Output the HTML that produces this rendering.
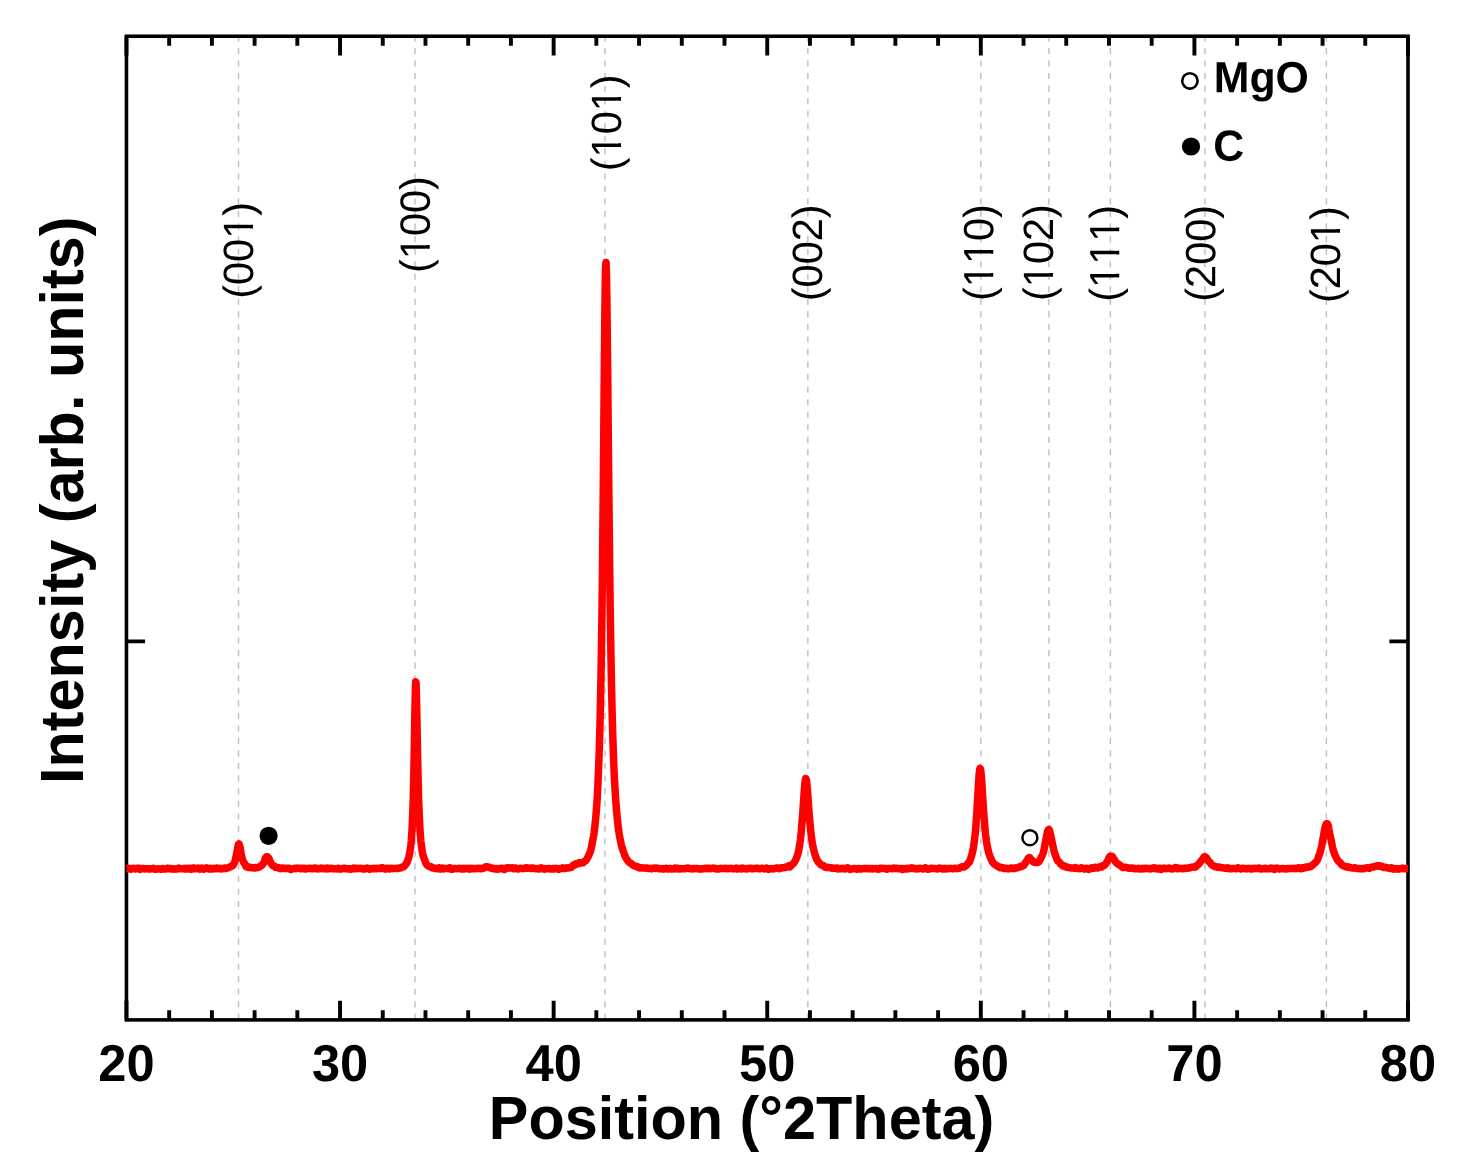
<!DOCTYPE html>
<html lang="en"><head><meta charset="utf-8"><title>XRD pattern</title>
<style>html,body{margin:0;padding:0;background:#fff}body{width:1468px;height:1176px;overflow:hidden}svg{display:block}text{font-family:"Liberation Sans",Arial,Helvetica,sans-serif;fill:#000;font-kerning:none}.b{font-weight:bold}</style>
</head><body>
<svg width="1468" height="1176" viewBox="0 0 1468 1176">
<rect width="1468" height="1176" fill="#fff"/>
<g stroke="#bebebe" stroke-width="1.4" stroke-dasharray="6.1 6.444" fill="none">
<line x1="238.50" y1="35.4" x2="238.50" y2="1019.90"/>
<line x1="415.00" y1="35.4" x2="415.00" y2="1019.90"/>
<line x1="604.95" y1="35.4" x2="604.95" y2="1019.90"/>
<line x1="807.85" y1="35.4" x2="807.85" y2="1019.90"/>
<line x1="980.85" y1="35.4" x2="980.85" y2="1019.90"/>
<line x1="1048.90" y1="35.4" x2="1048.90" y2="1019.90"/>
<line x1="1110.40" y1="35.4" x2="1110.40" y2="1019.90"/>
<line x1="1204.90" y1="35.4" x2="1204.90" y2="1019.90"/>
<line x1="1326.40" y1="35.4" x2="1326.40" y2="1019.90"/>
</g>
<g stroke="#000" fill="none" stroke-linecap="butt">
<rect x="126.45" y="36.25" width="1281.55" height="983.65" stroke-width="3.60"/>
<path d="M126.45 36.25 v19.20 M126.45 1019.90 v-19.20 M169.17 36.25 v9.60 M169.17 1019.90 v-9.60 M211.89 36.25 v9.60 M211.89 1019.90 v-9.60 M254.61 36.25 v9.60 M254.61 1019.90 v-9.60 M297.32 36.25 v9.60 M297.32 1019.90 v-9.60 M340.04 36.25 v19.20 M340.04 1019.90 v-19.20 M382.76 36.25 v9.60 M382.76 1019.90 v-9.60 M425.48 36.25 v9.60 M425.48 1019.90 v-9.60 M468.20 36.25 v9.60 M468.20 1019.90 v-9.60 M510.92 36.25 v9.60 M510.92 1019.90 v-9.60 M553.63 36.25 v19.20 M553.63 1019.90 v-19.20 M596.35 36.25 v9.60 M596.35 1019.90 v-9.60 M639.07 36.25 v9.60 M639.07 1019.90 v-9.60 M681.79 36.25 v9.60 M681.79 1019.90 v-9.60 M724.51 36.25 v9.60 M724.51 1019.90 v-9.60 M767.23 36.25 v19.20 M767.23 1019.90 v-19.20 M809.94 36.25 v9.60 M809.94 1019.90 v-9.60 M852.66 36.25 v9.60 M852.66 1019.90 v-9.60 M895.38 36.25 v9.60 M895.38 1019.90 v-9.60 M938.10 36.25 v9.60 M938.10 1019.90 v-9.60 M980.82 36.25 v19.20 M980.82 1019.90 v-19.20 M1023.54 36.25 v9.60 M1023.54 1019.90 v-9.60 M1066.25 36.25 v9.60 M1066.25 1019.90 v-9.60 M1108.97 36.25 v9.60 M1108.97 1019.90 v-9.60 M1151.69 36.25 v9.60 M1151.69 1019.90 v-9.60 M1194.41 36.25 v19.20 M1194.41 1019.90 v-19.20 M1237.13 36.25 v9.60 M1237.13 1019.90 v-9.60 M1279.85 36.25 v9.60 M1279.85 1019.90 v-9.60 M1322.56 36.25 v9.60 M1322.56 1019.90 v-9.60 M1365.28 36.25 v9.60 M1365.28 1019.90 v-9.60 M1408.00 36.25 v19.20 M1408.00 1019.90 v-19.20 M126.45 641.40 h18.60 M1408.00 641.40 h-18.60" stroke-width="3.90"/>
</g>
<defs><clipPath id="k0" clipPathUnits="userSpaceOnUse"><path clip-rule="evenodd" d="M-20 -60 H140 V30 H-20 Z M61.80 -4.36 H70.38 V2.00 H61.80 Z M74.12 -4.36 H82.27 V2.00 H74.12 Z"/></clipPath><clipPath id="k1" clipPathUnits="userSpaceOnUse"><path clip-rule="evenodd" d="M-20 -60 H140 V30 H-20 Z M15.64 -4.36 H24.22 V2.00 H15.64 Z M27.96 -4.36 H36.11 V2.00 H27.96 Z"/></clipPath><clipPath id="k2" clipPathUnits="userSpaceOnUse"><path clip-rule="evenodd" d="M-20 -60 H140 V30 H-20 Z M15.64 -4.36 H24.22 V2.00 H15.64 Z M27.96 -4.36 H36.11 V2.00 H27.96 Z M61.80 -4.36 H70.38 V2.00 H61.80 Z M74.12 -4.36 H82.27 V2.00 H74.12 Z"/></clipPath><clipPath id="k4" clipPathUnits="userSpaceOnUse"><path clip-rule="evenodd" d="M-20 -60 H140 V30 H-20 Z M15.64 -4.36 H24.22 V2.00 H15.64 Z M27.96 -4.36 H36.11 V2.00 H27.96 Z M38.72 -4.36 H47.30 V2.00 H38.72 Z M51.04 -4.36 H59.19 V2.00 H51.04 Z"/></clipPath><clipPath id="k5" clipPathUnits="userSpaceOnUse"><path clip-rule="evenodd" d="M-20 -60 H140 V30 H-20 Z M15.64 -4.36 H24.22 V2.00 H15.64 Z M27.96 -4.36 H36.11 V2.00 H27.96 Z"/></clipPath><clipPath id="k6" clipPathUnits="userSpaceOnUse"><path clip-rule="evenodd" d="M-20 -60 H140 V30 H-20 Z M15.64 -4.36 H24.22 V2.00 H15.64 Z M27.96 -4.36 H36.11 V2.00 H27.96 Z M38.72 -4.36 H47.30 V2.00 H38.72 Z M51.04 -4.36 H59.19 V2.00 H51.04 Z M61.80 -4.36 H70.38 V2.00 H61.80 Z M74.12 -4.36 H82.27 V2.00 H74.12 Z"/></clipPath><clipPath id="k8" clipPathUnits="userSpaceOnUse"><path clip-rule="evenodd" d="M-20 -60 H140 V30 H-20 Z M61.80 -4.36 H70.38 V2.00 H61.80 Z M74.12 -4.36 H82.27 V2.00 H74.12 Z"/></clipPath></defs>
<g font-size="41.50">
<text clip-path="url(#k0)" transform="translate(253.06 298.80) rotate(-90.03) scale(1 1.020)">(001)</text>
<text clip-path="url(#k1)" transform="translate(429.70 273.00) rotate(-90.03) scale(1 1.020)">(100)</text>
<text clip-path="url(#k2)" transform="translate(621.00 171.20) rotate(-90.03) scale(1 1.020)">(101)</text>
<text transform="translate(822.10 301.20) rotate(-90.03) scale(1 1.020)">(002)</text>
<text clip-path="url(#k4)" transform="translate(993.30 301.00) rotate(-90.03) scale(1 1.020)">(110)</text>
<text clip-path="url(#k5)" transform="translate(1053.10 301.00) rotate(-90.03) scale(1 1.020)">(102)</text>
<text clip-path="url(#k6)" transform="translate(1119.20 301.70) rotate(-90.03) scale(1 1.020)">(111)</text>
<text transform="translate(1215.20 301.70) rotate(-90.03) scale(1 1.020)">(200)</text>
<text clip-path="url(#k8)" transform="translate(1340.10 303.10) rotate(-90.03) scale(1 1.020)">(201)</text>
</g>
<path d="M126.45 868.47 L126.85 868.47 L127.25 868.35 L127.65 868.51 L128.05 868.67 L128.45 868.63 L128.85 868.40 L129.25 868.37 L129.65 868.65 L130.05 868.98 L130.45 869.16 L130.85 869.01 L131.25 868.96 L131.65 868.93 L132.05 868.99 L132.45 868.69 L132.85 868.42 L133.25 868.26 L133.65 868.41 L134.05 868.51 L134.45 868.57 L134.85 868.63 L135.25 868.79 L135.65 868.94 L136.05 868.85 L136.45 868.64 L136.85 868.33 L137.25 868.31 L137.65 868.16 L138.05 868.21 L138.45 868.12 L138.85 868.29 L139.25 868.59 L139.65 868.99 L140.05 869.31 L140.45 869.08 L140.85 868.79 L141.25 868.45 L141.65 868.50 L142.05 868.62 L142.45 868.71 L142.85 868.65 L143.25 868.57 L143.65 868.45 L144.05 868.60 L144.45 868.66 L144.85 868.89 L145.25 868.79 L145.65 868.87 L146.05 868.75 L146.45 868.83 L146.85 868.74 L147.25 868.86 L147.65 868.89 L148.05 869.01 L148.45 868.86 L148.85 868.75 L149.25 868.64 L149.65 868.84 L150.05 868.95 L150.45 869.04 L150.85 868.89 L151.25 868.87 L151.65 868.81 L152.05 868.81 L152.45 868.70 L152.85 868.53 L153.25 868.35 L153.65 868.31 L154.05 868.52 L154.45 868.87 L154.85 869.17 L155.25 869.25 L155.65 869.21 L156.05 869.08 L156.45 869.00 L156.85 869.02 L157.25 869.05 L157.65 868.99 L158.05 868.87 L158.45 868.82 L158.85 868.99 L159.25 869.07 L159.65 869.01 L160.05 868.94 L160.45 869.01 L160.85 869.26 L161.25 869.30 L161.65 869.16 L162.05 868.86 L162.45 868.61 L162.85 868.50 L163.25 868.59 L163.65 868.80 L164.05 868.98 L164.45 869.03 L164.85 868.92 L165.25 868.89 L165.65 868.82 L166.05 868.89 L166.45 868.72 L166.85 868.44 L167.25 868.16 L167.65 868.22 L168.05 868.58 L168.45 868.82 L168.85 868.87 L169.25 868.69 L169.65 868.65 L170.05 868.48 L170.45 868.39 L170.85 868.40 L171.25 868.82 L171.65 869.10 L172.05 869.03 L172.45 868.67 L172.85 868.66 L173.25 868.91 L173.65 869.21 L174.05 869.21 L174.45 869.09 L174.85 869.10 L175.25 869.01 L175.65 868.95 L176.05 868.69 L176.45 868.73 L176.85 868.88 L177.25 869.07 L177.65 868.90 L178.05 868.55 L178.45 868.17 L178.85 868.10 L179.25 868.22 L179.65 868.41 L180.05 868.61 L180.45 868.69 L180.85 868.75 L181.25 868.66 L181.65 868.64 L182.05 868.70 L182.45 868.77 L182.85 868.76 L183.25 868.52 L183.65 868.47 L184.05 868.57 L184.45 868.91 L184.85 868.97 L185.25 868.72 L185.65 868.42 L186.05 868.30 L186.45 868.61 L186.85 868.90 L187.25 869.07 L187.65 868.69 L188.05 868.38 L188.45 868.21 L188.85 868.42 L189.25 868.46 L189.65 868.30 L190.05 868.45 L190.45 868.74 L190.85 869.30 L191.25 869.27 L191.65 868.94 L192.05 868.42 L192.45 868.05 L192.85 868.09 L193.25 868.05 L193.65 868.14 L194.05 868.09 L194.45 868.44 L194.85 868.72 L195.25 868.78 L195.65 868.52 L196.05 868.41 L196.45 868.54 L196.85 868.61 L197.25 868.43 L197.65 868.20 L198.05 868.08 L198.45 868.20 L198.85 868.47 L199.25 868.92 L199.65 869.14 L200.05 869.18 L200.45 868.83 L200.85 868.56 L201.25 868.27 L201.65 868.13 L202.05 868.05 L202.45 868.24 L202.85 868.66 L203.25 869.08 L203.65 869.22 L204.05 869.07 L204.45 868.80 L204.85 868.56 L205.25 868.41 L205.65 868.22 L206.05 867.99 L206.45 867.87 L206.85 867.99 L207.25 868.27 L207.65 868.56 L208.05 868.73 L208.45 868.90 L208.85 868.96 L209.25 868.95 L209.65 868.69 L210.05 868.42 L210.45 868.22 L210.85 868.42 L211.25 868.63 L211.65 868.94 L212.05 868.99 L212.45 868.90 L212.85 868.68 L213.25 868.39 L213.65 868.36 L214.05 868.28 L214.45 868.39 L214.85 868.52 L215.25 868.83 L215.65 868.87 L216.05 868.70 L216.45 868.20 L216.85 867.97 L217.25 867.92 L217.65 868.22 L218.05 868.43 L218.45 868.54 L218.85 868.65 L219.25 868.67 L219.65 868.64 L220.05 868.36 L220.45 868.34 L220.85 868.52 L221.25 868.86 L221.65 868.92 L222.05 868.78 L222.45 868.61 L222.85 868.52 L223.25 868.47 L223.65 868.28 L224.05 868.10 L224.45 868.08 L224.85 868.28 L225.25 868.55 L225.65 868.56 L226.05 868.40 L226.45 868.21 L226.85 868.11 L227.25 868.05 L227.65 867.95 L228.05 867.86 L228.45 867.69 L228.85 867.42 L229.25 867.13 L229.65 867.00 L230.05 866.85 L230.45 866.75 L230.85 866.40 L231.25 866.24 L231.65 866.01 L232.05 865.95 L232.45 865.78 L232.85 865.49 L233.25 864.89 L233.65 864.14 L234.05 863.36 L234.45 862.58 L234.85 861.57 L235.25 860.15 L235.65 858.42 L236.05 856.47 L236.45 854.54 L236.85 852.49 L237.25 850.35 L237.65 848.07 L238.05 845.93 L238.45 844.49 L238.85 844.00 L239.25 844.55 L239.65 845.68 L240.05 847.31 L240.45 849.43 L240.85 851.94 L241.25 854.42 L241.65 856.53 L242.05 858.09 L242.45 859.49 L242.85 860.56 L243.25 861.57 L243.65 862.26 L244.05 862.90 L244.45 863.36 L244.85 863.98 L245.25 864.76 L245.65 865.81 L246.05 866.60 L246.45 866.85 L246.85 866.58 L247.25 866.29 L247.65 866.49 L248.05 866.94 L248.45 867.43 L248.85 867.57 L249.25 867.62 L249.65 867.58 L250.05 867.50 L250.45 867.36 L250.85 867.38 L251.25 867.53 L251.65 867.73 L252.05 867.81 L252.45 867.79 L252.85 867.73 L253.25 867.74 L253.65 867.85 L254.05 868.10 L254.45 868.02 L254.85 867.84 L255.25 867.59 L255.65 867.56 L256.05 867.64 L256.45 867.61 L256.85 867.66 L257.25 867.53 L257.65 867.51 L258.05 867.42 L258.45 867.38 L258.85 867.37 L259.25 867.14 L259.65 866.88 L260.05 866.44 L260.45 866.09 L260.85 865.77 L261.25 865.49 L261.65 865.34 L262.05 865.00 L262.45 864.55 L262.85 863.93 L263.25 863.53 L263.65 863.03 L264.05 862.23 L264.45 861.05 L264.85 859.80 L265.25 858.74 L265.65 857.83 L266.05 857.18 L266.45 856.80 L266.85 856.69 L267.25 856.73 L267.65 856.91 L268.05 857.27 L268.45 857.95 L268.85 858.66 L269.25 859.53 L269.65 860.29 L270.05 861.09 L270.45 861.96 L270.85 862.84 L271.25 863.66 L271.65 864.17 L272.05 864.69 L272.45 865.21 L272.85 865.73 L273.25 865.92 L273.65 865.91 L274.05 865.82 L274.45 866.07 L274.85 866.55 L275.25 867.07 L275.65 867.36 L276.05 867.40 L276.45 867.35 L276.85 867.37 L277.25 867.51 L277.65 867.67 L278.05 867.72 L278.45 867.61 L278.85 867.61 L279.25 867.81 L279.65 868.24 L280.05 868.55 L280.45 868.68 L280.85 868.61 L281.25 868.54 L281.65 868.36 L282.05 868.24 L282.45 868.03 L282.85 868.07 L283.25 868.10 L283.65 868.26 L284.05 868.28 L284.45 868.46 L284.85 868.54 L285.25 868.55 L285.65 868.39 L286.05 868.25 L286.45 868.31 L286.85 868.30 L287.25 868.38 L287.65 868.21 L288.05 868.22 L288.45 868.13 L288.85 868.26 L289.25 868.40 L289.65 868.65 L290.05 869.14 L290.45 869.41 L290.85 869.54 L291.25 869.12 L291.65 868.90 L292.05 868.77 L292.45 868.91 L292.85 868.88 L293.25 868.77 L293.65 868.62 L294.05 868.47 L294.45 868.35 L294.85 868.31 L295.25 868.42 L295.65 868.65 L296.05 868.70 L296.45 868.49 L296.85 868.21 L297.25 868.11 L297.65 868.22 L298.05 868.26 L298.45 868.15 L298.85 868.13 L299.25 868.16 L299.65 868.42 L300.05 868.58 L300.45 868.73 L300.85 868.64 L301.25 868.50 L301.65 868.31 L302.05 868.28 L302.45 868.35 L302.85 868.53 L303.25 868.78 L303.65 868.79 L304.05 868.71 L304.45 868.38 L304.85 868.57 L305.25 868.81 L305.65 869.08 L306.05 868.89 L306.45 868.56 L306.85 868.52 L307.25 868.50 L307.65 868.61 L308.05 868.46 L308.45 868.48 L308.85 868.43 L309.25 868.35 L309.65 868.24 L310.05 868.27 L310.45 868.53 L310.85 868.66 L311.25 868.63 L311.65 868.52 L312.05 868.56 L312.45 868.65 L312.85 868.75 L313.25 868.73 L313.65 868.68 L314.05 868.35 L314.45 868.12 L314.85 867.91 L315.25 867.99 L315.65 868.04 L316.05 868.28 L316.45 868.51 L316.85 868.77 L317.25 868.89 L317.65 868.97 L318.05 868.90 L318.45 868.67 L318.85 868.38 L319.25 868.42 L319.65 868.48 L320.05 868.63 L320.45 868.31 L320.85 868.21 L321.25 868.05 L321.65 868.21 L322.05 868.26 L322.45 868.36 L322.85 868.42 L323.25 868.61 L323.65 868.82 L324.05 868.83 L324.45 868.61 L324.85 868.36 L325.25 868.46 L325.65 868.74 L326.05 868.94 L326.45 868.70 L326.85 868.37 L327.25 868.10 L327.65 868.08 L328.05 868.27 L328.45 868.55 L328.85 868.77 L329.25 868.60 L329.65 868.39 L330.05 868.22 L330.45 868.30 L330.85 868.27 L331.25 868.21 L331.65 868.27 L332.05 868.54 L332.45 868.83 L332.85 868.87 L333.25 868.78 L333.65 868.65 L334.05 868.78 L334.45 868.84 L334.85 868.89 L335.25 868.70 L335.65 868.67 L336.05 868.79 L336.45 868.89 L336.85 868.95 L337.25 868.76 L337.65 868.58 L338.05 868.28 L338.45 868.29 L338.85 868.53 L339.25 868.96 L339.65 869.12 L340.05 869.14 L340.45 869.07 L340.85 869.01 L341.25 868.90 L341.65 868.76 L342.05 868.70 L342.45 868.61 L342.85 868.45 L343.25 868.28 L343.65 868.31 L344.05 868.40 L344.45 868.46 L344.85 868.33 L345.25 868.39 L345.65 868.55 L346.05 868.81 L346.45 868.80 L346.85 868.76 L347.25 868.73 L347.65 868.90 L348.05 868.91 L348.45 868.90 L348.85 868.70 L349.25 868.73 L349.65 868.79 L350.05 868.95 L350.45 869.16 L350.85 869.21 L351.25 869.21 L351.65 868.95 L352.05 868.77 L352.45 868.72 L352.85 868.57 L353.25 868.37 L353.65 868.09 L354.05 868.10 L354.45 868.33 L354.85 868.56 L355.25 868.75 L355.65 868.65 L356.05 868.52 L356.45 868.31 L356.85 868.27 L357.25 868.35 L357.65 868.47 L358.05 868.55 L358.45 868.44 L358.85 868.38 L359.25 868.29 L359.65 868.42 L360.05 868.39 L360.45 868.42 L360.85 868.33 L361.25 868.33 L361.65 868.51 L362.05 868.68 L362.45 868.95 L362.85 868.79 L363.25 868.76 L363.65 868.75 L364.05 869.03 L364.45 869.00 L364.85 868.74 L365.25 868.43 L365.65 868.38 L366.05 868.41 L366.45 868.30 L366.85 868.11 L367.25 868.05 L367.65 868.15 L368.05 868.33 L368.45 868.61 L368.85 869.02 L369.25 869.31 L369.65 869.23 L370.05 868.88 L370.45 868.65 L370.85 868.65 L371.25 868.73 L371.65 868.73 L372.05 868.59 L372.45 868.50 L372.85 868.53 L373.25 868.74 L373.65 868.84 L374.05 868.72 L374.45 868.40 L374.85 868.32 L375.25 868.41 L375.65 868.72 L376.05 868.82 L376.45 868.73 L376.85 868.49 L377.25 868.34 L377.65 868.49 L378.05 868.56 L378.45 868.59 L378.85 868.38 L379.25 868.33 L379.65 868.31 L380.05 868.44 L380.45 868.52 L380.85 868.43 L381.25 868.08 L381.65 867.77 L382.05 867.79 L382.45 868.17 L382.85 868.42 L383.25 868.33 L383.65 868.11 L384.05 868.28 L384.45 868.72 L384.85 869.13 L385.25 869.16 L385.65 868.90 L386.05 868.59 L386.45 868.34 L386.85 868.27 L387.25 868.28 L387.65 868.33 L388.05 868.44 L388.45 868.60 L388.85 868.85 L389.25 869.03 L389.65 868.99 L390.05 868.72 L390.45 868.41 L390.85 868.27 L391.25 868.31 L391.65 868.49 L392.05 868.55 L392.45 868.67 L392.85 868.59 L393.25 868.50 L393.65 868.43 L394.05 868.41 L394.45 868.60 L394.85 868.50 L395.25 868.54 L395.65 868.32 L396.05 868.28 L396.45 868.19 L396.85 868.40 L397.25 868.56 L397.65 868.61 L398.05 868.40 L398.45 868.23 L398.85 868.17 L399.25 868.04 L399.65 867.98 L400.05 867.83 L400.45 867.94 L400.85 867.93 L401.25 867.81 L401.65 867.51 L402.05 867.10 L402.45 866.92 L402.85 866.81 L403.25 866.90 L403.65 866.73 L404.05 866.45 L404.45 865.99 L404.85 865.53 L405.25 864.93 L405.65 864.40 L406.05 863.91 L406.45 863.49 L406.85 862.77 L407.25 861.79 L407.65 860.61 L408.05 859.46 L408.45 858.35 L408.85 857.11 L409.25 855.39 L409.65 853.31 L410.05 850.88 L410.45 848.35 L410.85 845.17 L411.25 841.08 L411.65 835.68 L412.05 828.95 L412.45 820.83 L412.85 810.65 L413.25 797.86 L413.65 781.53 L414.05 761.81 L414.45 738.98 L414.85 715.00 L415.25 693.81 L415.65 681.64 L416.05 682.72 L416.45 694.99 L416.85 714.50 L417.25 736.47 L417.65 757.74 L418.05 776.29 L418.45 791.98 L418.85 804.58 L419.25 815.09 L419.65 823.33 L420.05 830.34 L420.45 835.85 L420.85 840.58 L421.25 844.21 L421.65 847.37 L422.05 850.03 L422.45 852.38 L422.85 854.34 L423.25 856.04 L423.65 857.35 L424.05 858.42 L424.45 859.32 L424.85 860.49 L425.25 861.69 L425.65 862.67 L426.05 863.49 L426.45 864.13 L426.85 864.84 L427.25 865.25 L427.65 865.63 L428.05 865.88 L428.45 866.08 L428.85 866.24 L429.25 866.41 L429.65 866.58 L430.05 866.57 L430.45 866.53 L430.85 866.69 L431.25 867.08 L431.65 867.46 L432.05 867.70 L432.45 867.91 L432.85 868.02 L433.25 868.08 L433.65 867.95 L434.05 867.99 L434.45 868.14 L434.85 868.46 L435.25 868.59 L435.65 868.66 L436.05 868.58 L436.45 868.53 L436.85 868.37 L437.25 868.38 L437.65 868.56 L438.05 868.80 L438.45 868.62 L438.85 868.20 L439.25 867.79 L439.65 867.86 L440.05 868.24 L440.45 868.73 L440.85 869.07 L441.25 868.97 L441.65 868.64 L442.05 868.26 L442.45 868.13 L442.85 868.42 L443.25 868.73 L443.65 869.00 L444.05 868.86 L444.45 868.75 L444.85 868.62 L445.25 868.62 L445.65 868.57 L446.05 868.55 L446.45 868.45 L446.85 868.44 L447.25 868.49 L447.65 868.64 L448.05 868.76 L448.45 868.78 L448.85 868.57 L449.25 868.12 L449.65 867.77 L450.05 867.82 L450.45 868.34 L450.85 868.90 L451.25 869.28 L451.65 869.36 L452.05 869.32 L452.45 868.99 L452.85 868.78 L453.25 868.55 L453.65 868.65 L454.05 868.63 L454.45 868.54 L454.85 868.38 L455.25 868.41 L455.65 868.60 L456.05 868.79 L456.45 868.74 L456.85 868.67 L457.25 868.48 L457.65 868.48 L458.05 868.42 L458.45 868.55 L458.85 868.54 L459.25 868.50 L459.65 868.32 L460.05 868.32 L460.45 868.58 L460.85 868.88 L461.25 869.06 L461.65 868.98 L462.05 868.96 L462.45 868.79 L462.85 868.65 L463.25 868.36 L463.65 868.43 L464.05 868.55 L464.45 868.88 L464.85 868.77 L465.25 868.61 L465.65 868.35 L466.05 868.43 L466.45 868.55 L466.85 868.61 L467.25 868.67 L467.65 868.59 L468.05 868.47 L468.45 868.26 L468.85 868.43 L469.25 868.76 L469.65 869.15 L470.05 869.02 L470.45 868.75 L470.85 868.39 L471.25 868.26 L471.65 868.29 L472.05 868.40 L472.45 868.64 L472.85 868.64 L473.25 868.71 L473.65 868.59 L474.05 868.73 L474.45 868.73 L474.85 868.72 L475.25 868.63 L475.65 868.58 L476.05 868.65 L476.45 868.53 L476.85 868.48 L477.25 868.37 L477.65 868.47 L478.05 868.55 L478.45 868.62 L478.85 868.49 L479.25 868.35 L479.65 868.34 L480.05 868.60 L480.45 868.73 L480.85 868.72 L481.25 868.54 L481.65 868.55 L482.05 868.56 L482.45 868.53 L482.85 868.38 L483.25 868.25 L483.65 868.15 L484.05 867.91 L484.45 867.56 L484.85 867.27 L485.25 867.05 L485.65 866.88 L486.05 866.71 L486.45 866.70 L486.85 866.83 L487.25 866.83 L487.65 866.84 L488.05 866.94 L488.45 867.29 L488.85 867.48 L489.25 867.38 L489.65 867.29 L490.05 867.39 L490.45 867.70 L490.85 867.96 L491.25 868.19 L491.65 868.47 L492.05 868.51 L492.45 868.43 L492.85 868.23 L493.25 868.26 L493.65 868.41 L494.05 868.60 L494.45 868.90 L494.85 869.01 L495.25 868.91 L495.65 868.65 L496.05 868.62 L496.45 868.87 L496.85 869.14 L497.25 869.21 L497.65 869.04 L498.05 868.64 L498.45 868.38 L498.85 868.42 L499.25 868.76 L499.65 868.95 L500.05 868.85 L500.45 868.71 L500.85 868.59 L501.25 868.49 L501.65 868.23 L502.05 868.27 L502.45 868.40 L502.85 868.76 L503.25 868.87 L503.65 869.17 L504.05 869.36 L504.45 869.53 L504.85 869.30 L505.25 868.89 L505.65 868.34 L506.05 868.05 L506.45 868.08 L506.85 868.20 L507.25 868.30 L507.65 867.93 L508.05 867.84 L508.45 867.75 L508.85 867.99 L509.25 868.08 L509.65 868.06 L510.05 868.15 L510.45 868.08 L510.85 868.08 L511.25 867.86 L511.65 867.75 L512.05 867.77 L512.45 867.95 L512.85 868.33 L513.25 868.57 L513.65 868.73 L514.05 868.50 L514.45 868.27 L514.85 868.00 L515.25 867.92 L515.65 867.99 L516.05 868.21 L516.45 868.51 L516.85 868.64 L517.25 868.74 L517.65 868.83 L518.05 868.99 L518.45 868.96 L518.85 868.82 L519.25 868.54 L519.65 868.41 L520.05 868.30 L520.45 868.32 L520.85 868.30 L521.25 868.36 L521.65 868.41 L522.05 868.44 L522.45 868.53 L522.85 868.60 L523.25 868.67 L523.65 868.55 L524.05 868.39 L524.45 868.25 L524.85 868.19 L525.25 868.14 L525.65 867.94 L526.05 867.77 L526.45 867.82 L526.85 868.13 L527.25 868.34 L527.65 868.33 L528.05 868.20 L528.45 868.15 L528.85 868.00 L529.25 868.01 L529.65 867.93 L530.05 868.12 L530.45 868.20 L530.85 868.50 L531.25 868.58 L531.65 868.51 L532.05 868.26 L532.45 868.02 L532.85 868.07 L533.25 868.10 L533.65 868.27 L534.05 868.27 L534.45 868.44 L534.85 868.61 L535.25 868.74 L535.65 868.71 L536.05 868.65 L536.45 868.75 L536.85 868.85 L537.25 868.79 L537.65 868.58 L538.05 868.53 L538.45 868.59 L538.85 868.77 L539.25 868.92 L539.65 868.96 L540.05 868.85 L540.45 868.39 L540.85 868.00 L541.25 867.85 L541.65 868.10 L542.05 868.59 L542.45 868.76 L542.85 868.70 L543.25 868.41 L543.65 868.53 L544.05 868.84 L544.45 869.13 L544.85 869.15 L545.25 868.98 L545.65 868.79 L546.05 868.72 L546.45 868.71 L546.85 868.78 L547.25 868.83 L547.65 868.82 L548.05 868.72 L548.45 868.52 L548.85 868.45 L549.25 868.49 L549.65 868.69 L550.05 868.88 L550.45 869.02 L550.85 868.98 L551.25 869.03 L551.65 869.06 L552.05 869.04 L552.45 868.70 L552.85 868.45 L553.25 868.51 L553.65 868.76 L554.05 869.00 L554.45 868.93 L554.85 868.74 L555.25 868.52 L555.65 868.38 L556.05 868.56 L556.45 868.64 L556.85 868.76 L557.25 868.60 L557.65 868.75 L558.05 868.99 L558.45 869.23 L558.85 869.23 L559.25 868.98 L559.65 868.71 L560.05 868.57 L560.45 868.51 L560.85 868.58 L561.25 868.41 L561.65 868.33 L562.05 868.06 L562.45 867.94 L562.85 867.86 L563.25 868.08 L563.65 868.37 L564.05 868.58 L564.45 868.57 L564.85 868.43 L565.25 868.37 L565.65 868.34 L566.05 868.21 L566.45 867.90 L566.85 867.73 L567.25 867.85 L567.65 868.09 L568.05 868.12 L568.45 867.94 L568.85 867.90 L569.25 867.85 L569.65 867.72 L570.05 867.43 L570.45 867.39 L570.85 867.53 L571.25 867.47 L571.65 867.05 L572.05 866.37 L572.45 865.93 L572.85 865.55 L573.25 865.27 L573.65 864.93 L574.05 864.83 L574.45 864.84 L574.85 864.88 L575.25 864.65 L575.65 864.26 L576.05 863.81 L576.45 863.59 L576.85 863.60 L577.25 863.83 L577.65 863.93 L578.05 863.89 L578.45 863.47 L578.85 863.15 L579.25 862.77 L579.65 862.87 L580.05 862.89 L580.45 863.14 L580.85 862.97 L581.25 862.88 L581.65 862.58 L582.05 862.62 L582.45 862.69 L582.85 862.77 L583.25 862.43 L583.65 861.98 L584.05 861.56 L584.45 861.37 L584.85 861.19 L585.25 860.95 L585.65 860.68 L586.05 860.23 L586.45 859.68 L586.85 858.95 L587.25 858.18 L587.65 857.45 L588.05 856.76 L588.45 856.05 L588.85 855.16 L589.25 854.18 L589.65 853.25 L590.05 852.35 L590.45 851.20 L590.85 849.79 L591.25 848.00 L591.65 846.13 L592.05 844.00 L592.45 841.91 L592.85 839.77 L593.25 837.72 L593.65 835.56 L594.05 833.06 L594.45 830.01 L594.85 826.46 L595.25 822.54 L595.65 818.52 L596.05 814.19 L596.45 809.44 L596.85 803.71 L597.25 797.02 L597.65 789.41 L598.05 781.14 L598.45 772.07 L598.85 761.87 L599.25 750.35 L599.65 737.11 L600.05 721.82 L600.45 704.12 L600.85 683.85 L601.25 660.92 L601.65 634.95 L602.05 605.37 L602.45 571.56 L602.85 533.41 L603.25 491.29 L603.65 446.23 L604.05 399.81 L604.45 354.46 L604.85 313.94 L605.25 282.57 L605.65 264.68 L606.05 262.43 L606.45 274.06 L606.85 297.50 L607.25 330.00 L607.65 368.50 L608.05 409.94 L608.45 452.02 L608.85 492.58 L609.25 530.52 L609.65 565.24 L610.05 596.84 L610.45 625.12 L610.85 650.15 L611.25 672.14 L611.65 691.57 L612.05 708.81 L612.45 724.16 L612.85 737.94 L613.25 750.27 L613.65 761.20 L614.05 770.45 L614.45 778.56 L614.85 785.83 L615.25 792.73 L615.65 798.95 L616.05 804.33 L616.45 809.20 L616.85 813.59 L617.25 817.98 L617.65 821.97 L618.05 825.68 L618.45 828.92 L618.85 831.76 L619.25 834.33 L619.65 836.57 L620.05 838.63 L620.45 840.61 L620.85 842.60 L621.25 844.52 L621.65 846.17 L622.05 847.51 L622.45 848.72 L622.85 849.89 L623.25 851.03 L623.65 852.32 L624.05 853.43 L624.45 854.66 L624.85 855.59 L625.25 856.60 L625.65 857.36 L626.05 858.13 L626.45 858.71 L626.85 859.35 L627.25 859.87 L627.65 860.46 L628.05 861.00 L628.45 861.60 L628.85 862.07 L629.25 862.34 L629.65 862.55 L630.05 862.77 L630.45 863.11 L630.85 863.40 L631.25 863.66 L631.65 863.93 L632.05 864.31 L632.45 864.74 L632.85 864.99 L633.25 865.21 L633.65 865.30 L634.05 865.59 L634.45 865.66 L634.85 865.83 L635.25 866.03 L635.65 866.34 L636.05 866.58 L636.45 866.53 L636.85 866.51 L637.25 866.48 L637.65 866.70 L638.05 866.92 L638.45 867.28 L638.85 867.65 L639.25 867.86 L639.65 867.91 L640.05 867.76 L640.45 867.78 L640.85 867.66 L641.25 867.68 L641.65 867.69 L642.05 867.90 L642.45 868.00 L642.85 868.00 L643.25 867.92 L643.65 867.96 L644.05 868.02 L644.45 868.13 L644.85 868.07 L645.25 868.03 L645.65 867.96 L646.05 867.88 L646.45 867.89 L646.85 867.97 L647.25 868.20 L647.65 868.44 L648.05 868.52 L648.45 868.59 L648.85 868.50 L649.25 868.52 L649.65 868.42 L650.05 868.43 L650.45 868.46 L650.85 868.58 L651.25 868.70 L651.65 868.80 L652.05 868.72 L652.45 868.46 L652.85 868.23 L653.25 868.24 L653.65 868.37 L654.05 868.27 L654.45 868.09 L654.85 868.11 L655.25 868.37 L655.65 868.43 L656.05 868.25 L656.45 868.06 L656.85 868.18 L657.25 868.30 L657.65 868.35 L658.05 868.32 L658.45 868.44 L658.85 868.66 L659.25 868.77 L659.65 868.80 L660.05 868.71 L660.45 868.76 L660.85 868.68 L661.25 868.67 L661.65 868.60 L662.05 868.82 L662.45 868.94 L662.85 869.03 L663.25 868.84 L663.65 868.75 L664.05 868.71 L664.45 868.90 L664.85 868.95 L665.25 868.84 L665.65 868.54 L666.05 868.34 L666.45 868.31 L666.85 868.40 L667.25 868.56 L667.65 868.76 L668.05 868.95 L668.45 869.03 L668.85 868.93 L669.25 868.68 L669.65 868.42 L670.05 868.37 L670.45 868.54 L670.85 868.79 L671.25 868.94 L671.65 868.88 L672.05 868.77 L672.45 868.67 L672.85 868.77 L673.25 868.97 L673.65 868.90 L674.05 868.61 L674.45 868.10 L674.85 868.03 L675.25 868.32 L675.65 868.75 L676.05 868.86 L676.45 868.56 L676.85 868.23 L677.25 868.13 L677.65 868.27 L678.05 868.61 L678.45 868.86 L678.85 869.03 L679.25 868.90 L679.65 868.71 L680.05 868.64 L680.45 868.72 L680.85 868.86 L681.25 868.90 L681.65 868.87 L682.05 868.87 L682.45 868.82 L682.85 868.80 L683.25 868.75 L683.65 868.68 L684.05 868.64 L684.45 868.64 L684.85 868.71 L685.25 868.68 L685.65 868.53 L686.05 868.42 L686.45 868.24 L686.85 868.23 L687.25 868.05 L687.65 868.04 L688.05 868.05 L688.45 868.29 L688.85 868.46 L689.25 868.59 L689.65 868.58 L690.05 868.79 L690.45 868.79 L690.85 868.77 L691.25 868.58 L691.65 868.56 L692.05 868.74 L692.45 868.85 L692.85 868.90 L693.25 868.75 L693.65 868.52 L694.05 868.48 L694.45 868.49 L694.85 868.57 L695.25 868.48 L695.65 868.45 L696.05 868.53 L696.45 868.68 L696.85 868.69 L697.25 868.65 L697.65 868.57 L698.05 868.62 L698.45 868.74 L698.85 868.91 L699.25 869.09 L699.65 869.14 L700.05 869.10 L700.45 868.87 L700.85 868.70 L701.25 868.70 L701.65 868.92 L702.05 869.03 L702.45 868.92 L702.85 868.78 L703.25 868.76 L703.65 868.80 L704.05 868.68 L704.45 868.45 L704.85 868.34 L705.25 868.27 L705.65 868.27 L706.05 868.33 L706.45 868.56 L706.85 868.76 L707.25 868.67 L707.65 868.36 L708.05 868.17 L708.45 868.13 L708.85 868.27 L709.25 868.25 L709.65 868.40 L710.05 868.45 L710.45 868.66 L710.85 868.64 L711.25 868.59 L711.65 868.49 L712.05 868.38 L712.45 868.23 L712.85 868.07 L713.25 868.14 L713.65 868.36 L714.05 868.45 L714.45 868.36 L714.85 868.19 L715.25 868.39 L715.65 868.58 L716.05 868.95 L716.45 868.91 L716.85 869.01 L717.25 868.87 L717.65 868.82 L718.05 868.76 L718.45 868.82 L718.85 868.96 L719.25 868.89 L719.65 868.77 L720.05 868.56 L720.45 868.45 L720.85 868.31 L721.25 868.36 L721.65 868.48 L722.05 868.58 L722.45 868.50 L722.85 868.39 L723.25 868.40 L723.65 868.40 L724.05 868.37 L724.45 868.38 L724.85 868.51 L725.25 868.49 L725.65 868.41 L726.05 868.28 L726.45 868.38 L726.85 868.49 L727.25 868.69 L727.65 868.75 L728.05 868.74 L728.45 868.59 L728.85 868.50 L729.25 868.52 L729.65 868.54 L730.05 868.54 L730.45 868.44 L730.85 868.38 L731.25 868.35 L731.65 868.49 L732.05 868.64 L732.45 868.79 L732.85 868.76 L733.25 868.78 L733.65 868.78 L734.05 868.77 L734.45 868.74 L734.85 868.69 L735.25 868.49 L735.65 868.26 L736.05 868.07 L736.45 868.44 L736.85 868.73 L737.25 868.97 L737.65 868.73 L738.05 868.60 L738.45 868.57 L738.85 868.65 L739.25 868.75 L739.65 868.60 L740.05 868.40 L740.45 868.39 L740.85 868.77 L741.25 869.07 L741.65 868.88 L742.05 868.35 L742.45 868.13 L742.85 868.27 L743.25 868.51 L743.65 868.59 L744.05 868.67 L744.45 868.72 L744.85 868.68 L745.25 868.65 L745.65 868.59 L746.05 868.76 L746.45 868.82 L746.85 868.96 L747.25 868.88 L747.65 868.80 L748.05 868.55 L748.45 868.35 L748.85 868.22 L749.25 868.24 L749.65 868.21 L750.05 868.19 L750.45 868.31 L750.85 868.52 L751.25 868.64 L751.65 868.53 L752.05 868.60 L752.45 868.66 L752.85 868.77 L753.25 868.59 L753.65 868.49 L754.05 868.42 L754.45 868.46 L754.85 868.44 L755.25 868.37 L755.65 868.38 L756.05 868.37 L756.45 868.36 L756.85 868.15 L757.25 868.13 L757.65 868.24 L758.05 868.56 L758.45 868.72 L758.85 868.80 L759.25 868.79 L759.65 868.78 L760.05 868.80 L760.45 868.72 L760.85 868.61 L761.25 868.39 L761.65 868.30 L762.05 868.21 L762.45 868.32 L762.85 868.44 L763.25 868.59 L763.65 868.66 L764.05 868.74 L764.45 868.88 L764.85 868.87 L765.25 868.76 L765.65 868.44 L766.05 868.23 L766.45 868.08 L766.85 868.39 L767.25 868.69 L767.65 869.04 L768.05 869.12 L768.45 869.38 L768.85 869.31 L769.25 869.14 L769.65 868.68 L770.05 868.71 L770.45 868.73 L770.85 868.82 L771.25 868.59 L771.65 868.56 L772.05 868.68 L772.45 868.89 L772.85 868.90 L773.25 868.82 L773.65 868.79 L774.05 868.82 L774.45 868.74 L774.85 868.51 L775.25 868.28 L775.65 868.16 L776.05 868.08 L776.45 867.95 L776.85 867.91 L777.25 867.96 L777.65 868.08 L778.05 868.04 L778.45 868.14 L778.85 868.41 L779.25 868.71 L779.65 868.67 L780.05 868.33 L780.45 867.97 L780.85 867.82 L781.25 867.86 L781.65 867.91 L782.05 867.92 L782.45 867.80 L782.85 867.76 L783.25 867.73 L783.65 867.71 L784.05 867.54 L784.45 867.37 L784.85 867.31 L785.25 867.39 L785.65 867.29 L786.05 867.11 L786.45 866.87 L786.85 866.93 L787.25 866.92 L787.65 866.69 L788.05 866.23 L788.45 865.92 L788.85 866.16 L789.25 866.69 L789.65 866.99 L790.05 866.76 L790.45 866.17 L790.85 865.64 L791.25 865.35 L791.65 865.04 L792.05 864.83 L792.45 864.28 L792.85 863.87 L793.25 863.29 L793.65 863.01 L794.05 862.52 L794.45 861.99 L794.85 861.30 L795.25 860.65 L795.65 859.94 L796.05 859.01 L796.45 858.02 L796.85 856.87 L797.25 855.75 L797.65 854.55 L798.05 853.30 L798.45 851.72 L798.85 849.66 L799.25 847.28 L799.65 844.81 L800.05 842.34 L800.45 839.46 L800.85 835.83 L801.25 831.51 L801.65 826.95 L802.05 822.28 L802.45 817.28 L802.85 811.77 L803.25 805.93 L803.65 799.95 L804.05 794.14 L804.45 788.55 L804.85 783.85 L805.25 780.35 L805.65 778.68 L806.05 778.84 L806.45 780.45 L806.85 783.42 L807.25 787.51 L807.65 792.72 L808.05 798.49 L808.45 804.26 L808.85 809.76 L809.25 814.83 L809.65 819.63 L810.05 824.09 L810.45 828.33 L810.85 832.22 L811.25 835.60 L811.65 838.62 L812.05 841.31 L812.45 843.84 L812.85 845.91 L813.25 847.76 L813.65 849.47 L814.05 851.26 L814.45 852.94 L814.85 854.33 L815.25 855.47 L815.65 856.51 L816.05 857.69 L816.45 858.74 L816.85 859.60 L817.25 860.17 L817.65 860.88 L818.05 861.60 L818.45 862.29 L818.85 862.61 L819.25 862.85 L819.65 863.16 L820.05 863.73 L820.45 864.39 L820.85 864.78 L821.25 865.01 L821.65 864.97 L822.05 865.25 L822.45 865.28 L822.85 865.50 L823.25 865.44 L823.65 865.84 L824.05 866.18 L824.45 866.76 L824.85 866.96 L825.25 867.27 L825.65 867.29 L826.05 867.58 L826.45 867.56 L826.85 867.62 L827.25 867.44 L827.65 867.43 L828.05 867.51 L828.45 867.51 L828.85 867.49 L829.25 867.42 L829.65 867.54 L830.05 867.70 L830.45 867.69 L830.85 867.73 L831.25 867.66 L831.65 868.02 L832.05 868.18 L832.45 868.38 L832.85 868.17 L833.25 868.10 L833.65 868.13 L834.05 868.28 L834.45 868.32 L834.85 868.25 L835.25 868.28 L835.65 868.31 L836.05 868.25 L836.45 867.99 L836.85 868.04 L837.25 868.35 L837.65 868.87 L838.05 869.06 L838.45 868.92 L838.85 868.71 L839.25 868.51 L839.65 868.50 L840.05 868.52 L840.45 868.54 L840.85 868.68 L841.25 868.65 L841.65 868.72 L842.05 868.56 L842.45 868.45 L842.85 868.37 L843.25 868.32 L843.65 868.32 L844.05 868.42 L844.45 868.58 L844.85 868.92 L845.25 868.89 L845.65 868.94 L846.05 868.68 L846.45 868.54 L846.85 868.04 L847.25 867.85 L847.65 867.84 L848.05 868.25 L848.45 868.49 L848.85 868.63 L849.25 868.92 L849.65 869.18 L850.05 869.44 L850.45 869.26 L850.85 869.16 L851.25 868.97 L851.65 868.87 L852.05 868.73 L852.45 868.75 L852.85 868.78 L853.25 868.68 L853.65 868.41 L854.05 868.40 L854.45 868.59 L854.85 868.74 L855.25 868.62 L855.65 868.51 L856.05 868.76 L856.45 869.04 L856.85 869.33 L857.25 869.19 L857.65 869.14 L858.05 868.87 L858.45 868.76 L858.85 868.52 L859.25 868.49 L859.65 868.65 L860.05 868.89 L860.45 869.03 L860.85 868.99 L861.25 869.05 L861.65 869.06 L862.05 869.05 L862.45 868.84 L862.85 868.65 L863.25 868.49 L863.65 868.46 L864.05 868.44 L864.45 868.43 L864.85 868.49 L865.25 868.65 L865.65 868.73 L866.05 868.69 L866.45 868.51 L866.85 868.46 L867.25 868.50 L867.65 868.55 L868.05 868.66 L868.45 868.67 L868.85 868.70 L869.25 868.58 L869.65 868.64 L870.05 868.68 L870.45 868.70 L870.85 868.47 L871.25 868.51 L871.65 868.71 L872.05 869.02 L872.45 868.93 L872.85 868.68 L873.25 868.52 L873.65 868.69 L874.05 868.87 L874.45 868.84 L874.85 868.81 L875.25 868.73 L875.65 868.73 L876.05 868.49 L876.45 868.45 L876.85 868.60 L877.25 868.81 L877.65 869.02 L878.05 869.13 L878.45 869.21 L878.85 869.15 L879.25 868.86 L879.65 868.55 L880.05 868.31 L880.45 868.29 L880.85 868.33 L881.25 868.26 L881.65 868.13 L882.05 868.21 L882.45 868.38 L882.85 868.55 L883.25 868.46 L883.65 868.42 L884.05 868.39 L884.45 868.49 L884.85 868.42 L885.25 868.45 L885.65 868.54 L886.05 868.86 L886.45 869.13 L886.85 869.19 L887.25 869.04 L887.65 868.74 L888.05 868.51 L888.45 868.48 L888.85 868.53 L889.25 868.64 L889.65 868.58 L890.05 868.58 L890.45 868.51 L890.85 868.48 L891.25 868.47 L891.65 868.51 L892.05 868.67 L892.45 868.69 L892.85 868.55 L893.25 868.23 L893.65 867.91 L894.05 867.96 L894.45 868.17 L894.85 868.55 L895.25 868.57 L895.65 868.52 L896.05 868.28 L896.45 868.34 L896.85 868.35 L897.25 868.46 L897.65 868.38 L898.05 868.48 L898.45 868.57 L898.85 868.73 L899.25 868.78 L899.65 868.74 L900.05 868.68 L900.45 868.52 L900.85 868.48 L901.25 868.51 L901.65 868.84 L902.05 869.25 L902.45 869.52 L902.85 869.35 L903.25 868.90 L903.65 868.61 L904.05 868.62 L904.45 868.74 L904.85 868.77 L905.25 868.74 L905.65 868.93 L906.05 869.06 L906.45 868.98 L906.85 868.56 L907.25 868.19 L907.65 868.15 L908.05 868.40 L908.45 868.66 L908.85 868.79 L909.25 868.64 L909.65 868.58 L910.05 868.45 L910.45 868.34 L910.85 868.02 L911.25 867.86 L911.65 867.86 L912.05 868.22 L912.45 868.38 L912.85 868.50 L913.25 868.33 L913.65 868.27 L914.05 868.21 L914.45 868.35 L914.85 868.59 L915.25 868.79 L915.65 868.80 L916.05 868.76 L916.45 868.84 L916.85 868.97 L917.25 868.87 L917.65 868.62 L918.05 868.45 L918.45 868.47 L918.85 868.68 L919.25 868.66 L919.65 868.63 L920.05 868.32 L920.45 868.40 L920.85 868.40 L921.25 868.50 L921.65 868.41 L922.05 868.62 L922.45 868.89 L922.85 869.03 L923.25 868.79 L923.65 868.58 L924.05 868.39 L924.45 868.28 L924.85 867.99 L925.25 867.86 L925.65 867.85 L926.05 868.16 L926.45 868.47 L926.85 868.90 L927.25 869.12 L927.65 869.24 L928.05 869.14 L928.45 869.10 L928.85 869.01 L929.25 869.02 L929.65 868.88 L930.05 868.71 L930.45 868.37 L930.85 868.30 L931.25 868.38 L931.65 868.61 L932.05 868.58 L932.45 868.39 L932.85 868.30 L933.25 868.41 L933.65 868.60 L934.05 868.58 L934.45 868.49 L934.85 868.51 L935.25 868.64 L935.65 868.75 L936.05 868.74 L936.45 868.83 L936.85 868.88 L937.25 868.88 L937.65 868.65 L938.05 868.59 L938.45 868.32 L938.85 868.20 L939.25 867.99 L939.65 868.17 L940.05 868.35 L940.45 868.44 L940.85 868.44 L941.25 868.44 L941.65 868.45 L942.05 868.54 L942.45 868.75 L942.85 869.08 L943.25 869.08 L943.65 868.80 L944.05 868.41 L944.45 868.34 L944.85 868.56 L945.25 868.81 L945.65 868.91 L946.05 868.73 L946.45 868.61 L946.85 868.46 L947.25 868.50 L947.65 868.56 L948.05 868.71 L948.45 868.75 L948.85 868.64 L949.25 868.45 L949.65 868.46 L950.05 868.44 L950.45 868.55 L950.85 868.32 L951.25 868.39 L951.65 868.38 L952.05 868.59 L952.45 868.62 L952.85 868.69 L953.25 868.71 L953.65 868.57 L954.05 868.43 L954.45 868.30 L954.85 868.29 L955.25 868.23 L955.65 868.27 L956.05 868.39 L956.45 868.60 L956.85 868.64 L957.25 868.62 L957.65 868.46 L958.05 868.43 L958.45 868.37 L958.85 868.37 L959.25 868.27 L959.65 868.06 L960.05 867.83 L960.45 867.44 L960.85 867.27 L961.25 867.11 L961.65 867.05 L962.05 866.77 L962.45 866.59 L962.85 866.45 L963.25 866.70 L963.65 866.89 L964.05 867.01 L964.45 866.76 L964.85 866.40 L965.25 866.20 L965.65 865.87 L966.05 865.62 L966.45 865.20 L966.85 864.95 L967.25 864.46 L967.65 863.81 L968.05 863.12 L968.45 862.74 L968.85 862.56 L969.25 862.35 L969.65 861.65 L970.05 860.57 L970.45 859.22 L970.85 857.95 L971.25 856.69 L971.65 855.33 L972.05 853.89 L972.45 852.30 L972.85 850.58 L973.25 848.46 L973.65 846.03 L974.05 843.22 L974.45 840.24 L974.85 836.89 L975.25 833.26 L975.65 828.93 L976.05 824.09 L976.45 818.37 L976.85 812.17 L977.25 805.35 L977.65 798.40 L978.05 791.34 L978.45 784.49 L978.85 778.25 L979.25 773.11 L979.65 769.74 L980.05 768.38 L980.45 769.09 L980.85 771.45 L981.25 775.35 L981.65 780.42 L982.05 786.33 L982.45 792.70 L982.85 799.26 L983.25 805.67 L983.65 811.65 L984.05 817.12 L984.45 822.16 L984.85 826.92 L985.25 831.25 L985.65 835.17 L986.05 838.34 L986.45 841.35 L986.85 843.71 L987.25 846.14 L987.65 848.04 L988.05 850.04 L988.45 851.57 L988.85 852.94 L989.25 854.13 L989.65 855.41 L990.05 856.71 L990.45 857.76 L990.85 858.58 L991.25 859.30 L991.65 860.24 L992.05 861.29 L992.45 862.07 L992.85 862.63 L993.25 862.88 L993.65 863.43 L994.05 863.81 L994.45 864.18 L994.85 864.28 L995.25 864.55 L995.65 864.85 L996.05 865.23 L996.45 865.48 L996.85 865.92 L997.25 866.10 L997.65 866.30 L998.05 866.19 L998.45 866.43 L998.85 866.63 L999.25 867.12 L999.65 867.48 L1000.05 867.76 L1000.45 867.82 L1000.85 867.76 L1001.25 867.75 L1001.65 867.63 L1002.05 867.57 L1002.45 867.53 L1002.85 867.78 L1003.25 868.13 L1003.65 868.46 L1004.05 868.47 L1004.45 868.45 L1004.85 868.38 L1005.25 868.40 L1005.65 868.27 L1006.05 868.26 L1006.45 868.35 L1006.85 868.59 L1007.25 868.64 L1007.65 868.77 L1008.05 868.76 L1008.45 868.90 L1008.85 868.73 L1009.25 868.66 L1009.65 868.48 L1010.05 868.38 L1010.45 868.19 L1010.85 868.00 L1011.25 868.09 L1011.65 868.25 L1012.05 868.56 L1012.45 868.61 L1012.85 868.39 L1013.25 868.18 L1013.65 867.93 L1014.05 868.14 L1014.45 868.31 L1014.85 868.51 L1015.25 868.40 L1015.65 868.06 L1016.05 867.92 L1016.45 867.76 L1016.85 867.66 L1017.25 867.49 L1017.65 867.48 L1018.05 867.64 L1018.45 867.53 L1018.85 867.31 L1019.25 866.81 L1019.65 866.61 L1020.05 866.56 L1020.45 866.79 L1020.85 866.85 L1021.25 866.69 L1021.65 866.40 L1022.05 866.11 L1022.45 865.88 L1022.85 865.70 L1023.25 865.66 L1023.65 865.47 L1024.05 864.92 L1024.45 864.13 L1024.85 863.47 L1025.25 863.15 L1025.65 862.72 L1026.05 862.06 L1026.45 861.18 L1026.85 860.42 L1027.25 859.86 L1027.65 859.24 L1028.05 858.66 L1028.45 858.02 L1028.85 857.74 L1029.25 857.59 L1029.65 857.70 L1030.05 858.07 L1030.45 858.61 L1030.85 859.28 L1031.25 859.63 L1031.65 859.97 L1032.05 860.22 L1032.45 860.68 L1032.85 861.17 L1033.25 861.72 L1033.65 862.04 L1034.05 862.18 L1034.45 862.15 L1034.85 862.19 L1035.25 862.32 L1035.65 862.42 L1036.05 862.57 L1036.45 862.61 L1036.85 862.59 L1037.25 862.54 L1037.65 862.48 L1038.05 862.40 L1038.45 862.09 L1038.85 861.66 L1039.25 861.15 L1039.65 860.59 L1040.05 859.97 L1040.45 859.17 L1040.85 858.28 L1041.25 857.27 L1041.65 856.51 L1042.05 855.74 L1042.45 854.91 L1042.85 853.83 L1043.25 852.67 L1043.65 851.26 L1044.05 849.44 L1044.45 847.31 L1044.85 845.13 L1045.25 842.99 L1045.65 840.95 L1046.05 838.90 L1046.45 836.85 L1046.85 834.78 L1047.25 832.80 L1047.65 831.29 L1048.05 830.18 L1048.45 829.66 L1048.85 829.43 L1049.25 829.91 L1049.65 830.91 L1050.05 832.49 L1050.45 834.31 L1050.85 836.23 L1051.25 838.18 L1051.65 840.04 L1052.05 841.84 L1052.45 843.70 L1052.85 845.58 L1053.25 847.63 L1053.65 849.54 L1054.05 851.28 L1054.45 852.61 L1054.85 853.74 L1055.25 854.80 L1055.65 855.97 L1056.05 857.08 L1056.45 858.12 L1056.85 859.11 L1057.25 859.92 L1057.65 860.69 L1058.05 861.13 L1058.45 861.48 L1058.85 861.67 L1059.25 861.99 L1059.65 862.65 L1060.05 863.32 L1060.45 863.90 L1060.85 864.13 L1061.25 864.32 L1061.65 864.63 L1062.05 865.01 L1062.45 865.48 L1062.85 865.84 L1063.25 866.13 L1063.65 866.29 L1064.05 866.21 L1064.45 866.20 L1064.85 866.06 L1065.25 866.27 L1065.65 866.49 L1066.05 866.91 L1066.45 867.17 L1066.85 867.35 L1067.25 867.40 L1067.65 867.40 L1068.05 867.37 L1068.45 867.48 L1068.85 867.59 L1069.25 867.66 L1069.65 867.64 L1070.05 867.74 L1070.45 867.86 L1070.85 867.92 L1071.25 867.91 L1071.65 867.91 L1072.05 868.01 L1072.45 867.96 L1072.85 867.96 L1073.25 868.01 L1073.65 868.21 L1074.05 868.37 L1074.45 868.13 L1074.85 867.87 L1075.25 867.53 L1075.65 867.65 L1076.05 867.78 L1076.45 868.19 L1076.85 868.37 L1077.25 868.56 L1077.65 868.42 L1078.05 868.47 L1078.45 868.54 L1078.85 868.60 L1079.25 868.66 L1079.65 868.57 L1080.05 868.66 L1080.45 868.38 L1080.85 868.17 L1081.25 867.83 L1081.65 867.88 L1082.05 867.93 L1082.45 868.19 L1082.85 868.27 L1083.25 868.39 L1083.65 868.50 L1084.05 868.82 L1084.45 869.09 L1084.85 869.01 L1085.25 868.82 L1085.65 868.48 L1086.05 868.34 L1086.45 868.17 L1086.85 868.20 L1087.25 868.45 L1087.65 868.66 L1088.05 868.99 L1088.45 869.15 L1088.85 869.37 L1089.25 869.20 L1089.65 868.91 L1090.05 868.68 L1090.45 868.69 L1090.85 868.55 L1091.25 868.22 L1091.65 867.80 L1092.05 867.82 L1092.45 867.96 L1092.85 868.24 L1093.25 868.24 L1093.65 868.29 L1094.05 868.02 L1094.45 867.76 L1094.85 867.34 L1095.25 867.23 L1095.65 867.26 L1096.05 867.41 L1096.45 867.56 L1096.85 867.72 L1097.25 867.92 L1097.65 867.98 L1098.05 867.84 L1098.45 867.58 L1098.85 867.22 L1099.25 866.96 L1099.65 866.75 L1100.05 866.73 L1100.45 866.75 L1100.85 866.88 L1101.25 867.04 L1101.65 866.99 L1102.05 866.62 L1102.45 865.94 L1102.85 865.56 L1103.25 865.55 L1103.65 865.72 L1104.05 865.62 L1104.45 865.20 L1104.85 864.85 L1105.25 864.38 L1105.65 863.95 L1106.05 863.26 L1106.45 862.58 L1106.85 861.87 L1107.25 861.27 L1107.65 860.78 L1108.05 860.17 L1108.45 859.31 L1108.85 858.31 L1109.25 857.43 L1109.65 856.81 L1110.05 856.42 L1110.45 856.22 L1110.85 856.17 L1111.25 856.17 L1111.65 856.28 L1112.05 856.40 L1112.45 856.77 L1112.85 857.32 L1113.25 858.08 L1113.65 858.72 L1114.05 859.23 L1114.45 859.77 L1114.85 860.56 L1115.25 861.37 L1115.65 862.10 L1116.05 862.47 L1116.45 862.81 L1116.85 863.15 L1117.25 863.63 L1117.65 863.91 L1118.05 864.01 L1118.45 864.20 L1118.85 864.58 L1119.25 864.96 L1119.65 865.08 L1120.05 865.09 L1120.45 865.40 L1120.85 865.87 L1121.25 866.35 L1121.65 866.65 L1122.05 866.95 L1122.45 867.22 L1122.85 867.47 L1123.25 867.57 L1123.65 867.61 L1124.05 867.48 L1124.45 867.34 L1124.85 867.27 L1125.25 867.21 L1125.65 867.30 L1126.05 867.39 L1126.45 867.45 L1126.85 867.50 L1127.25 867.52 L1127.65 867.78 L1128.05 868.00 L1128.45 868.22 L1128.85 868.28 L1129.25 868.19 L1129.65 868.12 L1130.05 868.14 L1130.45 868.23 L1130.85 868.20 L1131.25 867.96 L1131.65 867.91 L1132.05 867.96 L1132.45 868.15 L1132.85 868.22 L1133.25 868.35 L1133.65 868.58 L1134.05 868.68 L1134.45 868.67 L1134.85 868.53 L1135.25 868.53 L1135.65 868.62 L1136.05 868.68 L1136.45 868.64 L1136.85 868.66 L1137.25 868.71 L1137.65 868.71 L1138.05 868.49 L1138.45 868.24 L1138.85 868.35 L1139.25 868.63 L1139.65 869.06 L1140.05 869.06 L1140.45 869.12 L1140.85 868.95 L1141.25 868.91 L1141.65 868.52 L1142.05 868.40 L1142.45 868.31 L1142.85 868.70 L1143.25 868.83 L1143.65 868.90 L1144.05 868.56 L1144.45 868.40 L1144.85 868.32 L1145.25 868.48 L1145.65 868.46 L1146.05 868.43 L1146.45 868.27 L1146.85 868.39 L1147.25 868.47 L1147.65 868.67 L1148.05 868.65 L1148.45 868.68 L1148.85 868.52 L1149.25 868.46 L1149.65 868.56 L1150.05 868.86 L1150.45 868.94 L1150.85 868.78 L1151.25 868.54 L1151.65 868.52 L1152.05 868.48 L1152.45 868.26 L1152.85 868.01 L1153.25 867.79 L1153.65 867.80 L1154.05 867.92 L1154.45 868.19 L1154.85 868.60 L1155.25 868.69 L1155.65 868.60 L1156.05 868.14 L1156.45 868.17 L1156.85 868.39 L1157.25 868.86 L1157.65 868.95 L1158.05 868.81 L1158.45 868.56 L1158.85 868.35 L1159.25 868.15 L1159.65 868.16 L1160.05 868.28 L1160.45 868.85 L1160.85 869.21 L1161.25 869.46 L1161.65 869.31 L1162.05 869.01 L1162.45 868.61 L1162.85 868.30 L1163.25 868.29 L1163.65 868.34 L1164.05 868.33 L1164.45 868.16 L1164.85 868.15 L1165.25 868.31 L1165.65 868.54 L1166.05 868.63 L1166.45 868.54 L1166.85 868.51 L1167.25 868.56 L1167.65 868.59 L1168.05 868.51 L1168.45 868.21 L1168.85 868.06 L1169.25 868.04 L1169.65 868.28 L1170.05 868.48 L1170.45 868.53 L1170.85 868.65 L1171.25 868.86 L1171.65 869.01 L1172.05 868.88 L1172.45 868.69 L1172.85 868.64 L1173.25 868.76 L1173.65 868.66 L1174.05 868.51 L1174.45 868.08 L1174.85 867.86 L1175.25 867.55 L1175.65 867.59 L1176.05 867.58 L1176.45 867.93 L1176.85 868.27 L1177.25 868.73 L1177.65 868.82 L1178.05 868.63 L1178.45 868.34 L1178.85 868.17 L1179.25 868.24 L1179.65 868.33 L1180.05 868.48 L1180.45 868.56 L1180.85 868.46 L1181.25 868.41 L1181.65 868.39 L1182.05 868.62 L1182.45 868.80 L1182.85 868.80 L1183.25 868.62 L1183.65 868.34 L1184.05 868.34 L1184.45 868.41 L1184.85 868.53 L1185.25 868.39 L1185.65 868.19 L1186.05 868.06 L1186.45 868.15 L1186.85 868.27 L1187.25 868.30 L1187.65 868.12 L1188.05 867.98 L1188.45 867.91 L1188.85 868.06 L1189.25 868.07 L1189.65 867.97 L1190.05 867.74 L1190.45 867.60 L1190.85 867.49 L1191.25 867.31 L1191.65 867.22 L1192.05 867.06 L1192.45 867.05 L1192.85 866.93 L1193.25 866.98 L1193.65 867.00 L1194.05 867.05 L1194.45 867.11 L1194.85 867.23 L1195.25 867.16 L1195.65 866.91 L1196.05 866.26 L1196.45 865.82 L1196.85 865.42 L1197.25 865.33 L1197.65 865.08 L1198.05 864.75 L1198.45 864.36 L1198.85 863.88 L1199.25 863.44 L1199.65 862.85 L1200.05 862.35 L1200.45 861.72 L1200.85 861.26 L1201.25 860.81 L1201.65 860.42 L1202.05 859.94 L1202.45 859.40 L1202.85 858.81 L1203.25 858.16 L1203.65 857.44 L1204.05 856.87 L1204.45 856.66 L1204.85 856.64 L1205.25 856.93 L1205.65 857.10 L1206.05 857.51 L1206.45 857.74 L1206.85 858.27 L1207.25 858.99 L1207.65 859.85 L1208.05 860.60 L1208.45 861.11 L1208.85 861.55 L1209.25 861.84 L1209.65 862.08 L1210.05 862.47 L1210.45 863.02 L1210.85 863.75 L1211.25 864.21 L1211.65 864.64 L1212.05 864.84 L1212.45 865.22 L1212.85 865.45 L1213.25 865.76 L1213.65 865.86 L1214.05 866.08 L1214.45 866.25 L1214.85 866.56 L1215.25 866.74 L1215.65 866.85 L1216.05 866.80 L1216.45 866.73 L1216.85 866.85 L1217.25 867.05 L1217.65 867.22 L1218.05 867.07 L1218.45 866.98 L1218.85 866.94 L1219.25 867.07 L1219.65 867.21 L1220.05 867.35 L1220.45 867.53 L1220.85 867.52 L1221.25 867.57 L1221.65 867.60 L1222.05 867.68 L1222.45 867.72 L1222.85 867.70 L1223.25 867.87 L1223.65 868.03 L1224.05 868.23 L1224.45 868.20 L1224.85 868.12 L1225.25 868.05 L1225.65 868.25 L1226.05 868.38 L1226.45 868.41 L1226.85 868.07 L1227.25 867.91 L1227.65 867.80 L1228.05 867.91 L1228.45 867.97 L1228.85 868.30 L1229.25 868.52 L1229.65 868.75 L1230.05 868.53 L1230.45 868.57 L1230.85 868.46 L1231.25 868.72 L1231.65 868.73 L1232.05 868.74 L1232.45 868.52 L1232.85 868.42 L1233.25 868.40 L1233.65 868.51 L1234.05 868.48 L1234.45 868.54 L1234.85 868.54 L1235.25 868.63 L1235.65 868.70 L1236.05 868.76 L1236.45 868.73 L1236.85 868.44 L1237.25 868.13 L1237.65 867.80 L1238.05 867.88 L1238.45 867.98 L1238.85 868.23 L1239.25 868.26 L1239.65 868.46 L1240.05 868.72 L1240.45 868.91 L1240.85 868.89 L1241.25 868.74 L1241.65 868.68 L1242.05 868.64 L1242.45 868.45 L1242.85 868.27 L1243.25 868.19 L1243.65 868.36 L1244.05 868.54 L1244.45 868.56 L1244.85 868.59 L1245.25 868.68 L1245.65 868.81 L1246.05 868.89 L1246.45 868.81 L1246.85 868.85 L1247.25 868.66 L1247.65 868.54 L1248.05 868.40 L1248.45 868.38 L1248.85 868.41 L1249.25 868.32 L1249.65 868.51 L1250.05 868.69 L1250.45 868.99 L1250.85 868.99 L1251.25 868.97 L1251.65 868.88 L1252.05 868.66 L1252.45 868.42 L1252.85 868.18 L1253.25 868.35 L1253.65 868.53 L1254.05 868.73 L1254.45 868.59 L1254.85 868.37 L1255.25 868.23 L1255.65 868.25 L1256.05 868.37 L1256.45 868.39 L1256.85 868.39 L1257.25 868.39 L1257.65 868.45 L1258.05 868.42 L1258.45 868.23 L1258.85 868.05 L1259.25 867.98 L1259.65 868.27 L1260.05 868.64 L1260.45 868.91 L1260.85 868.92 L1261.25 868.78 L1261.65 868.75 L1262.05 868.75 L1262.45 868.86 L1262.85 868.83 L1263.25 868.82 L1263.65 868.70 L1264.05 868.71 L1264.45 868.53 L1264.85 868.42 L1265.25 868.24 L1265.65 868.32 L1266.05 868.46 L1266.45 868.65 L1266.85 868.69 L1267.25 868.67 L1267.65 868.71 L1268.05 868.77 L1268.45 868.83 L1268.85 868.79 L1269.25 868.71 L1269.65 868.54 L1270.05 868.32 L1270.45 868.13 L1270.85 868.27 L1271.25 868.44 L1271.65 868.57 L1272.05 868.38 L1272.45 868.33 L1272.85 868.34 L1273.25 868.63 L1273.65 868.96 L1274.05 869.28 L1274.45 869.38 L1274.85 869.24 L1275.25 868.87 L1275.65 868.55 L1276.05 868.24 L1276.45 868.18 L1276.85 868.12 L1277.25 868.13 L1277.65 868.28 L1278.05 868.49 L1278.45 868.86 L1278.85 868.94 L1279.25 868.96 L1279.65 868.82 L1280.05 868.79 L1280.45 868.72 L1280.85 868.69 L1281.25 868.60 L1281.65 868.68 L1282.05 868.65 L1282.45 868.66 L1282.85 868.50 L1283.25 868.57 L1283.65 868.64 L1284.05 868.80 L1284.45 868.83 L1284.85 868.84 L1285.25 868.90 L1285.65 868.96 L1286.05 869.04 L1286.45 868.87 L1286.85 868.68 L1287.25 868.50 L1287.65 868.62 L1288.05 868.72 L1288.45 868.74 L1288.85 868.54 L1289.25 868.46 L1289.65 868.41 L1290.05 868.43 L1290.45 868.38 L1290.85 868.40 L1291.25 868.53 L1291.65 868.61 L1292.05 868.58 L1292.45 868.43 L1292.85 868.43 L1293.25 868.55 L1293.65 868.56 L1294.05 868.51 L1294.45 868.34 L1294.85 868.47 L1295.25 868.50 L1295.65 868.66 L1296.05 868.56 L1296.45 868.56 L1296.85 868.51 L1297.25 868.44 L1297.65 868.22 L1298.05 867.84 L1298.45 867.72 L1298.85 867.81 L1299.25 868.27 L1299.65 868.46 L1300.05 868.62 L1300.45 868.61 L1300.85 868.80 L1301.25 868.63 L1301.65 868.21 L1302.05 867.79 L1302.45 867.92 L1302.85 868.27 L1303.25 868.32 L1303.65 867.89 L1304.05 867.60 L1304.45 867.63 L1304.85 867.84 L1305.25 867.60 L1305.65 867.26 L1306.05 867.11 L1306.45 867.34 L1306.85 867.46 L1307.25 867.37 L1307.65 867.17 L1308.05 867.00 L1308.45 866.82 L1308.85 866.61 L1309.25 866.54 L1309.65 866.56 L1310.05 866.71 L1310.45 866.76 L1310.85 866.54 L1311.25 866.13 L1311.65 865.59 L1312.05 865.37 L1312.45 865.16 L1312.85 864.95 L1313.25 864.56 L1313.65 864.16 L1314.05 863.73 L1314.45 863.32 L1314.85 862.96 L1315.25 862.69 L1315.65 862.34 L1316.05 861.86 L1316.45 861.39 L1316.85 860.85 L1317.25 860.30 L1317.65 859.31 L1318.05 858.24 L1318.45 856.98 L1318.85 855.88 L1319.25 854.87 L1319.65 853.83 L1320.05 852.59 L1320.45 851.00 L1320.85 849.39 L1321.25 847.80 L1321.65 846.11 L1322.05 844.18 L1322.45 841.98 L1322.85 839.68 L1323.25 837.43 L1323.65 835.03 L1324.05 832.74 L1324.45 830.45 L1324.85 828.68 L1325.25 827.06 L1325.65 825.61 L1326.05 824.40 L1326.45 823.67 L1326.85 823.53 L1327.25 823.72 L1327.65 824.21 L1328.05 825.24 L1328.45 826.78 L1328.85 828.96 L1329.25 831.19 L1329.65 833.48 L1330.05 835.42 L1330.45 837.24 L1330.85 838.91 L1331.25 840.75 L1331.65 842.80 L1332.05 844.88 L1332.45 846.79 L1332.85 848.41 L1333.25 849.92 L1333.65 851.34 L1334.05 852.70 L1334.45 853.88 L1334.85 854.92 L1335.25 855.73 L1335.65 856.48 L1336.05 857.16 L1336.45 858.03 L1336.85 858.90 L1337.25 859.65 L1337.65 860.25 L1338.05 860.77 L1338.45 861.31 L1338.85 861.64 L1339.25 861.91 L1339.65 862.12 L1340.05 862.47 L1340.45 863.02 L1340.85 863.71 L1341.25 864.30 L1341.65 864.64 L1342.05 864.89 L1342.45 865.21 L1342.85 865.56 L1343.25 865.75 L1343.65 865.88 L1344.05 865.92 L1344.45 866.13 L1344.85 866.26 L1345.25 866.33 L1345.65 866.40 L1346.05 866.62 L1346.45 866.97 L1346.85 867.15 L1347.25 867.14 L1347.65 867.09 L1348.05 866.89 L1348.45 867.01 L1348.85 867.05 L1349.25 867.41 L1349.65 867.39 L1350.05 867.51 L1350.45 867.50 L1350.85 867.71 L1351.25 867.82 L1351.65 867.90 L1352.05 867.89 L1352.45 867.90 L1352.85 867.94 L1353.25 868.07 L1353.65 868.15 L1354.05 868.09 L1354.45 867.84 L1354.85 867.76 L1355.25 867.76 L1355.65 868.03 L1356.05 868.17 L1356.45 868.44 L1356.85 868.51 L1357.25 868.53 L1357.65 868.46 L1358.05 868.40 L1358.45 868.54 L1358.85 868.56 L1359.25 868.68 L1359.65 868.61 L1360.05 868.73 L1360.45 868.75 L1360.85 868.76 L1361.25 868.65 L1361.65 868.54 L1362.05 868.48 L1362.45 868.54 L1362.85 868.64 L1363.25 868.79 L1363.65 868.79 L1364.05 868.60 L1364.45 868.29 L1364.85 868.13 L1365.25 868.08 L1365.65 868.16 L1366.05 868.08 L1366.45 868.03 L1366.85 867.85 L1367.25 867.67 L1367.65 867.69 L1368.05 867.83 L1368.45 868.17 L1368.85 868.30 L1369.25 868.39 L1369.65 868.33 L1370.05 868.10 L1370.45 867.71 L1370.85 867.33 L1371.25 867.25 L1371.65 867.26 L1372.05 867.24 L1372.45 867.02 L1372.85 866.94 L1373.25 866.88 L1373.65 867.01 L1374.05 866.92 L1374.45 866.79 L1374.85 866.51 L1375.25 866.36 L1375.65 866.33 L1376.05 866.26 L1376.45 866.07 L1376.85 865.78 L1377.25 865.66 L1377.65 865.74 L1378.05 865.83 L1378.45 865.77 L1378.85 865.69 L1379.25 865.82 L1379.65 866.12 L1380.05 866.41 L1380.45 866.47 L1380.85 866.41 L1381.25 866.24 L1381.65 866.23 L1382.05 866.35 L1382.45 866.71 L1382.85 867.05 L1383.25 867.35 L1383.65 867.50 L1384.05 867.57 L1384.45 867.47 L1384.85 867.31 L1385.25 867.20 L1385.65 867.40 L1386.05 867.52 L1386.45 867.66 L1386.85 867.54 L1387.25 867.63 L1387.65 867.83 L1388.05 867.99 L1388.45 868.19 L1388.85 868.15 L1389.25 868.36 L1389.65 868.43 L1390.05 868.52 L1390.45 868.38 L1390.85 868.05 L1391.25 867.81 L1391.65 867.79 L1392.05 868.08 L1392.45 868.48 L1392.85 868.78 L1393.25 869.04 L1393.65 869.15 L1394.05 869.10 L1394.45 868.88 L1394.85 868.63 L1395.25 868.60 L1395.65 868.77 L1396.05 868.96 L1396.45 868.99 L1396.85 868.83 L1397.25 868.77 L1397.65 868.82 L1398.05 869.10 L1398.45 869.12 L1398.85 869.14 L1399.25 868.90 L1399.65 868.92 L1400.05 868.79 L1400.45 868.78 L1400.85 868.63 L1401.25 868.61 L1401.65 868.48 L1402.05 868.32 L1402.45 868.11 L1402.85 868.14 L1403.25 868.37 L1403.65 868.64 L1404.05 868.78 L1404.45 868.70 L1404.85 868.63 L1405.25 868.55 L1405.65 868.63 L1406.05 868.55 L1406.45 868.54 L1406.85 868.56 L1407.25 868.61 L1407.65 868.68 L1408.00 868.68" fill="none" stroke="#ff0000" stroke-width="7.50" stroke-linejoin="round" stroke-linecap="butt"/>
<circle cx="268.6" cy="835.8" r="9.1" fill="#000"/>
<circle cx="1029.9" cy="837.7" r="7.5" fill="none" stroke="#000" stroke-width="2.4"/>
<circle cx="1189.9" cy="80.9" r="7.7" fill="none" stroke="#000" stroke-width="2.6"/>
<circle cx="1191.0" cy="146.5" r="9.1" fill="#000"/>
<text class="b" font-size="42.80" transform="translate(1213.75 92.2) rotate(0.03) scale(1 1.020)">MgO</text>
<text class="b" font-size="42.80" transform="translate(1213.2 160.7) rotate(0.03) scale(1 1.020)">C</text>
<g class="b" font-size="50.60" text-anchor="middle">
<text transform="translate(126.45 1081.0) rotate(0.03) scale(1 1.028)">20</text>
<text transform="translate(340.04 1081.0) rotate(0.03) scale(1 1.028)">30</text>
<text transform="translate(553.63 1081.0) rotate(0.03) scale(1 1.028)">40</text>
<text transform="translate(767.23 1081.0) rotate(0.03) scale(1 1.028)">50</text>
<text transform="translate(980.82 1081.0) rotate(0.03) scale(1 1.028)">60</text>
<text transform="translate(1194.41 1081.0) rotate(0.03) scale(1 1.028)">70</text>
<text transform="translate(1408.00 1081.0) rotate(0.03) scale(1 1.028)">80</text>
</g>
<text class="b" font-size="59.40" transform="translate(488.8 1139.0) rotate(0.015) scale(1 1.020)">Position (°2Theta)</text>
<text class="b" font-size="59.40" transform="translate(83.2 784.0) rotate(-90.015) scale(1 1.020)">Intensity (arb. units)</text>
</svg>
</body></html>
